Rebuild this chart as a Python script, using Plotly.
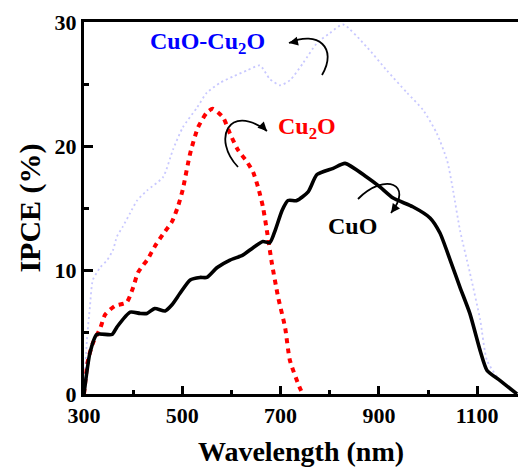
import plotly.graph_objects as go

# ---- data ----
cuo_x = [300, 312, 326, 357, 367, 394, 414, 428, 444, 465, 479, 495, 516, 536, 550, 571, 597,
         623, 644, 664, 678, 689, 703, 715, 733, 756, 774, 807, 831, 875, 902, 929, 969, 1004,
         1024, 1045, 1065, 1085, 1106, 1120, 1146, 1181]
cuo_y = [0, 3.3, 4.8, 4.8, 5.4, 6.6, 6.5, 6.5, 6.9, 6.7, 7.2, 8.1, 9.2, 9.4, 9.4, 10.2, 10.8,
         11.2, 11.8, 12.3, 12.2, 13.2, 14.8, 15.6, 15.6, 16.3, 17.7, 18.2, 18.6, 17.5, 16.7, 15.8,
         15.1, 14.2, 13.0, 10.8, 8.6, 6.5, 3.5, 1.9, 1.1, 0.0]

cu2o_x = [300, 308, 318, 333, 343, 363, 387, 400, 410, 430, 444, 461, 479, 491, 501, 516, 532,
          550, 562, 583, 597, 613, 632, 644, 654, 664, 672, 682, 695, 709, 719, 739, 745]
cu2o_y = [0, 2.7, 4.1, 5.3, 6.4, 7.1, 7.4, 8.6, 9.8, 10.9, 11.9, 12.9, 13.9, 15.1, 16.5, 19.4,
          21.5, 22.7, 23.0, 22.3, 21.0, 19.7, 18.7, 17.9, 16.7, 15.1, 13.2, 10.6, 7.8, 5.4, 2.7,
          0.5, 0]

mix_x = [300, 306, 312, 318, 333, 347, 359, 367, 379, 394, 408, 428, 461, 481, 501, 530, 550,
         577, 603, 632, 658, 678, 699, 719, 746, 774, 800, 827, 875, 916, 957, 990, 1018, 1039,
         1051, 1065, 1085, 1106, 1120, 1146, 1181]
mix_y = [0, 4.4, 7.0, 9.2, 10.2, 10.8, 11.6, 12.7, 13.5, 14.6, 15.6, 16.4, 17.5, 19.7, 21.5,
         23.1, 24.3, 25.1, 25.6, 26.1, 26.5, 25.4, 24.9, 25.3, 26.7, 28.3, 29.1, 29.8, 28.0, 26.1,
         24.3, 22.9, 21.0, 18.8, 16.4, 13.2, 9.8, 6.0, 2.7, 1.1, 0]

x_ticks = [300, 500, 700, 900, 1100]
y_ticks = [0, 10, 20, 30]

# ---- geometry helpers (pixel -> data) ----
X0, PX0, KX = 300, 84, 0.4915
Y0, PY0, KY = 0, 394, 12.4
def dx(px):
    return X0 + (px - PX0) / KX
def dy(py):
    return (PY0 - py) / KY

FONT = "Liberation Serif"

fig = go.Figure()
fig.add_trace(go.Scatter(x=mix_x, y=mix_y, mode="lines", line=dict(color="#c8c8ff", width=1.8, dash="2px,3px", shape="spline", smoothing=0.6), showlegend=False))
fig.add_trace(go.Scatter(x=cu2o_x, y=cu2o_y, mode="lines", line=dict(color="#ff0000", width=4, dash="5px,5px", shape="spline", smoothing=0.6), showlegend=False))
fig.add_trace(go.Scatter(x=cuo_x, y=cuo_y, mode="lines", line=dict(color="#000000", width=3.6, shape="spline", smoothing=0.6), showlegend=False))

def path(pts):
    (a, b), (c1x, c1y), (c2x, c2y), (ex, ey) = pts
    return (f"M {dx(a)},{dy(b)} C {dx(c1x)},{dy(c1y)} {dx(c2x)},{dy(c2y)} {dx(ex)},{dy(ey)}")

arrows = [
    ([(322, 75), (338, 48), (318, 30), (289, 43)], (289, 43), 9, -2),
    ([(238, 167), (212, 140), (228, 102), (267, 131)], (267, 131), -7, -7),
    ([(358, 199), (385, 172), (414, 184), (391, 213)], (391, 213), 6, -8),
]
for pts, tip, ax, ay in arrows:
    fig.add_shape(type="path", path=path(pts), xref="x", yref="y", line=dict(color="black", width=1.8))
    fig.add_annotation(x=dx(tip[0]), y=dy(tip[1]), ax=ax, ay=ay, text="", showarrow=True,
                       arrowhead=2, arrowsize=1.2, arrowwidth=1.5, arrowcolor="black",
                       xref="x", yref="y")

labels = [("CuO-Cu<sub>2</sub>O", 207, 43, "#0000ff"),
          ("Cu<sub>2</sub>O", 307, 128, "#ff0000"),
          ("CuO", 352, 226, "#000000")]
for t, px, py, col in labels:
    fig.add_annotation(x=dx(px), y=dy(py), text=f"<b>{t}</b>", showarrow=False,
                       font=dict(family=FONT, size=24, color=col), xref="x", yref="y")

fig.update_layout(
    width=518, height=471,
    margin=dict(l=84, r=0, t=22, b=77),
    paper_bgcolor="white", plot_bgcolor="white",
    font=dict(family=FONT, color="black"),
)
fig.update_xaxes(range=[dx(84), dx(518)], tickvals=x_ticks, ticktext=[f"<b>{v}</b>" for v in x_ticks],
                 ticks="inside", ticklen=8, tickwidth=2.5, tickcolor="black",
                 minor=dict(tickvals=[400, 600, 800, 1000], ticks="inside", ticklen=4, tickwidth=2.5, tickcolor="black"),
                 showline=True, linewidth=3, linecolor="black", mirror=True, showgrid=False, zeroline=False,
                 tickfont=dict(family=FONT, size=22),
                 title=dict(text="<b>Wavelength (nm)</b>", font=dict(family=FONT, size=28), standoff=14))
fig.update_yaxes(range=[0, 30], tickvals=y_ticks, ticktext=[f"<b>{v}</b>" for v in y_ticks],
                 ticks="inside", ticklen=9, tickwidth=2.5, tickcolor="black",
                 minor=dict(tickvals=[5, 15, 25], ticks="inside", ticklen=5, tickwidth=2.5, tickcolor="black"),
                 showline=True, linewidth=3, linecolor="black", mirror=False, showgrid=False, zeroline=False,
                 tickfont=dict(family=FONT, size=22),
                 title=dict(text="<b>IPCE (%)</b>", font=dict(family=FONT, size=30), standoff=6))

fig.write_html("out.html")
